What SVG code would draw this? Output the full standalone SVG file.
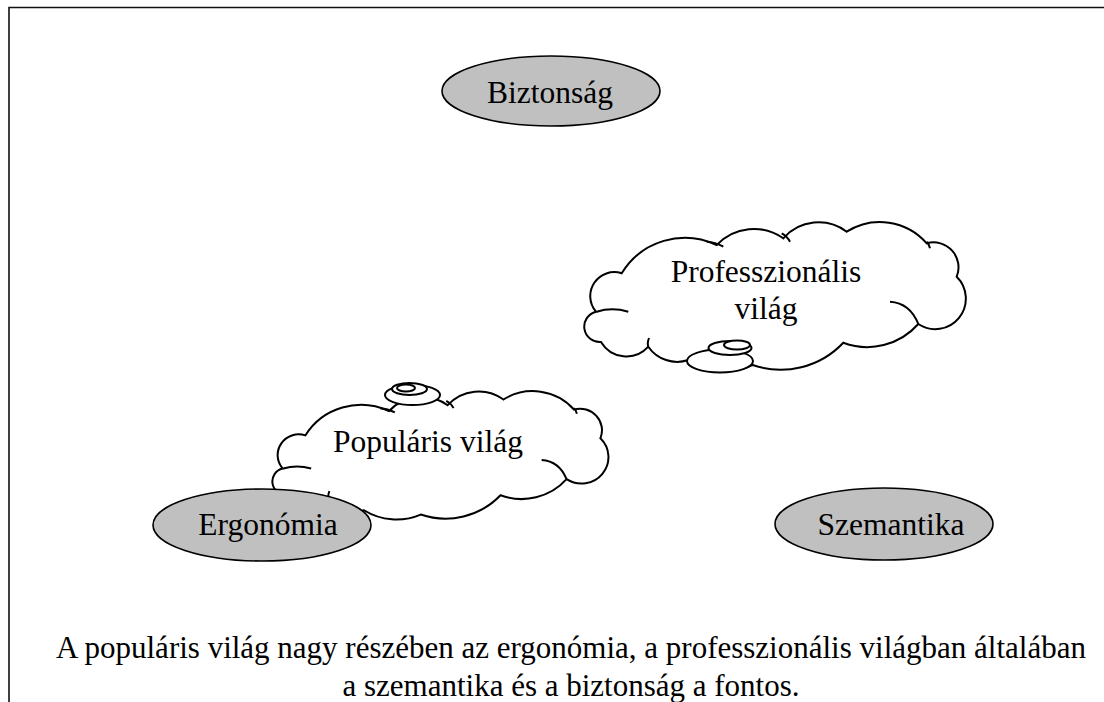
<svg xmlns="http://www.w3.org/2000/svg" xmlns:xlink="http://www.w3.org/1999/xlink" width="1104" height="702" viewBox="0 0 1104 702">
<style>
.ell{fill:#c0c0c0;stroke:#000;stroke-width:1.6}
.cl{fill:#fff;stroke:#000;stroke-width:2;vector-effect:non-scaling-stroke}
.seam{fill:none;stroke:#000;stroke-width:2;vector-effect:non-scaling-stroke}
.bub{fill:#fff;stroke:#000;stroke-width:2}
.t{font-family:"Liberation Serif","Times New Roman",serif;font-size:31.5px;fill:#000;text-anchor:middle}
.cap{font-size:31px}
</style>
<defs>
<path id="cloudBody" class="cl" d="M621.7,273.3 A74,74 0 0 1 716.7,245 A51,51 0 0 1 783.3,238.3 A47,47 0 0 1 846.7,231.7 A62,62 0 0 1 926.7,243.3 A25,25 0 0 1 956.7,276.7 A30.6,30.6 0 0 1 918.3,324 A68,68 0 0 1 843.3,342.7 A86,86 0 0 1 752.7,365 A69,69 0 0 1 688.3,360 A35,35 0 0 1 648.3,346.7 A29.5,29.5 0 0 1 601,342 A15.4,15.4 0 0 1 596,311.7 A24,24 0 0 1 621.7,273.3 Z"/>
<path id="cloudSeams" class="seam" d="M706.7,241.7 Q715,242 723.3,246.7 M781.7,233.3 Q787,236 790,241.7 M926.7,241.7 Q929,244 930,248.3 M890,301.7 Q910,303 918.3,324 M596.7,311.7 Q612,307 628.3,311.7 M648.3,346.7 Q647,343 649,338"/>
</defs>
<path d="M9,702 V7.5 H1104" fill="none" stroke="#111" stroke-width="1.6"/>
<g id="connectors"></g>
<g id="professzionalis">
<use xlink:href="#cloudBody"/>
<use xlink:href="#cloudSeams"/>
<ellipse class="bub" cx="720" cy="361" rx="33" ry="11.5"/>
<ellipse class="bub" cx="730" cy="348" rx="21.5" ry="7"/>
<ellipse class="bub" cx="737" cy="345" rx="13" ry="4.5"/>
<text class="t" x="766" y="282">Professzionális</text>
<text class="t" x="766" y="319">világ</text>
</g>
<g id="popularis">
<g transform="translate(273,392) scale(0.8808,0.863) translate(-585,-223)">
<use xlink:href="#cloudBody"/>
<use xlink:href="#cloudSeams"/>
</g>
<ellipse class="bub" cx="412.5" cy="395" rx="27.5" ry="10"/>
<ellipse class="bub" cx="409.5" cy="389" rx="17.5" ry="6"/>
<ellipse class="bub" cx="406" cy="388" rx="9" ry="3.5"/>
<text class="t" x="428" y="452">Populáris világ</text>
</g>
<g id="biztonsag">
<ellipse class="ell" cx="551" cy="91" rx="109" ry="35"/>
<text class="t" x="550" y="103">Biztonság</text>
</g>
<g id="ergonomia">
<ellipse class="ell" cx="262" cy="525" rx="109" ry="36"/>
<text class="t" x="268" y="535">Ergonómia</text>
</g>
<g id="szemantika">
<ellipse class="ell" cx="884" cy="524" rx="109" ry="36"/>
<text class="t" x="891" y="535">Szemantika</text>
</g>
<g id="caption">
<text class="t cap" x="571" y="658">A populáris világ nagy részében az ergonómia, a professzionális világban általában</text>
<text class="t cap" x="571" y="696">a szemantika és a biztonság a fontos.</text>
</g>
</svg>
